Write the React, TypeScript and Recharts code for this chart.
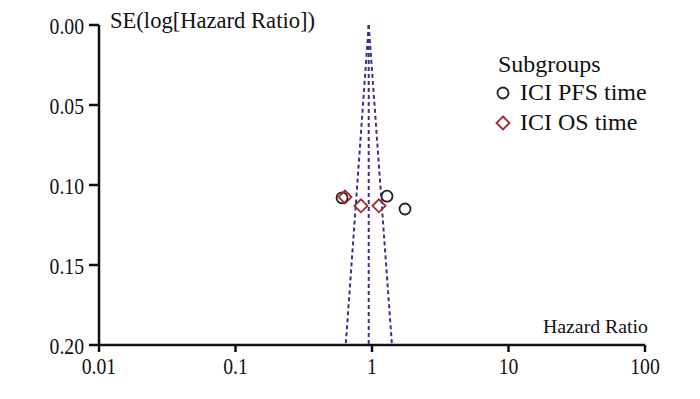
import React from "react";
import { ScatterChart, Scatter, XAxis, YAxis, Legend } from "recharts";

const FONT = "'Liberation Serif', 'Times New Roman', serif";

const pfsPoints = [
  { x: 0.603, y: 0.108 },
  { x: 1.288, y: 0.107 },
  { x: 1.745, y: 0.115 },
];
const osPoints = [
  { x: 0.634, y: 0.1075 },
  { x: 0.83, y: 0.113 },
  { x: 1.125, y: 0.113 },
];
const funnelLeft = [
  { x: 0.946, y: 0 },
  { x: 0.642, y: 0.2 },
];
const funnelRight = [
  { x: 0.946, y: 0 },
  { x: 1.4, y: 0.2 },
];
const funnelCenter = [
  { x: 0.946, y: 0 },
  { x: 0.946, y: 0.2 },
];
const xTicks = [0.01, 0.1, 1, 10, 100];
const yTicks = [0, 0.05, 0.1, 0.15, 0.2];
const xTickLabels = ["0.01", "0.1", "1", "10", "100"];

const FUNNEL = "#34348f";
const OS_RED = "#9e2a2a";
const TICK_FS = 24;
const SQUEEZE = 0.82;

const numWidth = (s: string) => {
  let w = 0;
  for (const ch of s) w += ch === "." ? 0.25 : 0.5;
  return w * TICK_FS * SQUEEZE;
};

const XTick = (props: any) => {
  const { x, y, payload } = props;
  const label = xTickLabels[xTicks.indexOf(payload.value)] ?? String(payload.value);
  return (
    <text x={x} y={y} dy="0.71em" textAnchor="middle" fontFamily={FONT} fontSize={TICK_FS} fill="#111"
      textLength={numWidth(label)} lengthAdjust="spacingAndGlyphs">
      {label}
    </text>
  );
};

const YTick = (props: any) => {
  const { x, y, payload } = props;
  const label = Number(payload.value).toFixed(2);
  return (
    <text x={x} y={y} dy="0.355em" textAnchor="end" fontFamily={FONT} fontSize={TICK_FS} fill="#111"
      textLength={numWidth(label)} lengthAdjust="spacingAndGlyphs">
      {label}
    </text>
  );
};

const CircleShape = (props: any) => {
  const { cx, cy } = props;
  if (cx == null || cy == null) return null;
  return <circle cx={cx} cy={cy} r={5.5} fill="#fff" fillOpacity={0} stroke="#222" strokeWidth={1.8} />;
};

const DiamondShape = (props: any) => {
  const { cx, cy } = props;
  if (cx == null || cy == null) return null;
  const s = 6.5;
  return (
    <path
      d={`M${cx},${cy - s} L${cx + s},${cy} L${cx},${cy + s} L${cx - s},${cy} Z`}
      fill="none"
      stroke={OS_RED}
      strokeWidth={1.8}
    />
  );
};

const NoShape = () => null;

const LegendContent = () => (
  <svg width={200} height={110} style={{ display: "block" }}>
    <text x={8} y={32} fontFamily={FONT} fontSize={24} fill="#111">
      Subgroups
    </text>
    <circle cx={13} cy={53} r={5.5} fill="none" stroke="#222" strokeWidth={1.8} />
    <text x={30} y={60} fontFamily={FONT} fontSize={24} fill="#111">
      ICI PFS time
    </text>
    <path d="M13,76.5 L19.5,83 L13,89.5 L6.5,83 Z" fill="none" stroke={OS_RED} strokeWidth={1.8} />
    <text x={30} y={90} fontFamily={FONT} fontSize={24} fill="#111">
      ICI OS time
    </text>
  </svg>
);

const YTitle = (props: any) => {
  const vb = props.viewBox || {};
  return (
    <text x={(vb.x ?? 0) + (vb.width ?? 0) + 11} y={(vb.y ?? 0) + 3} fontFamily={FONT} fontSize={24} fill="#111"
      textLength={205} lengthAdjust="spacingAndGlyphs">
      SE(log[Hazard Ratio])
    </text>
  );
};

const XTitle = (props: any) => {
  const vb = props.viewBox || {};
  return (
    <text x={(vb.x ?? 0) + (vb.width ?? 0) + 3} y={(vb.y ?? 0) - 12} textAnchor="end" fontFamily={FONT} fontSize={18} fill="#111"
      textLength={105} lengthAdjust="spacingAndGlyphs">
      Hazard Ratio
    </text>
  );
};

export default function App() {
  return (
    <div style={{ position: "absolute", left: 0, top: 0, width: 700, height: 399, background: "#fff" }}>
      <ScatterChart width={700} height={399} margin={{ top: 25, right: 55, bottom: 0, left: 0 }}>
        <XAxis
          type="number"
          dataKey="x"
          scale="log"
          domain={[0.01, 100]}
          ticks={xTicks}
          allowDataOverflow
          height={54}
          tickSize={7}
          tickMargin={5}
          stroke="#111"
          strokeWidth={2.5}
          tick={<XTick />}
          label={<XTitle />}
        />
        <YAxis
          type="number"
          dataKey="y"
          reversed
          domain={[0, 0.2]}
          ticks={yTicks}
          allowDataOverflow
          width={99}
          tickSize={10}
          tickMargin={5}
          stroke="#111"
          strokeWidth={2.5}
          tick={<YTick />}
          label={<YTitle />}
        />
        <Legend
          layout="vertical"
          verticalAlign="middle"
          align="center"
          wrapperStyle={{ position: "absolute", left: 490, top: 40, width: 200, height: 110 }}
          content={<LegendContent />}
        />
        <Scatter data={funnelLeft} line={{ stroke: FUNNEL, strokeWidth: 2, strokeDasharray: "4 3" }} shape={<NoShape />} isAnimationActive={false} legendType="none" />
        <Scatter data={funnelRight} line={{ stroke: FUNNEL, strokeWidth: 2, strokeDasharray: "4 3" }} shape={<NoShape />} isAnimationActive={false} legendType="none" />
        <Scatter data={funnelCenter} line={{ stroke: FUNNEL, strokeWidth: 2, strokeDasharray: "4 3" }} shape={<NoShape />} isAnimationActive={false} legendType="none" />
        <Scatter name="ICI PFS time" data={pfsPoints} shape={<CircleShape />} isAnimationActive={false} />
        <Scatter name="ICI OS time" data={osPoints} shape={<DiamondShape />} isAnimationActive={false} />
      </ScatterChart>
    </div>
  );
}
